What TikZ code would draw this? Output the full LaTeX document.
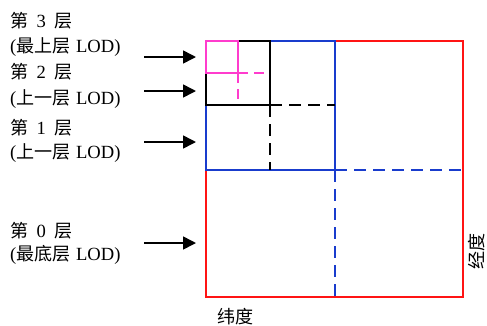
\documentclass[tikz,border=0pt]{standalone}
\usepackage{fontspec}
\setmainfont{Liberation Serif}
\newfontfamily\cjk[Scale=0.97]{Noto Sans CJK SC}
\usetikzlibrary{arrows.meta}
\definecolor{cred}{RGB}{255,20,20}
\definecolor{cblue}{RGB}{25,60,205}
\definecolor{cmag}{RGB}{255,60,205}
\newcommand{\gp}{\hspace{0.45em}}
\newcommand{\gq}{\hspace{0.3em}}
\tikzset{
  lbl/.style={anchor=west, inner sep=0pt, font=\fontsize{18.6}{21}\selectfont},
  arr/.style={line width=1.6pt, -{Triangle[length=13pt,width=13pt]}},
  solidline/.style={line width=1.7pt},
  dashline/.style={line width=1.7pt, dash pattern=on 12pt off 7pt},
}
\begin{document}
\begin{tikzpicture}[x=1pt,y=-1pt]
\useasboundingbox (0,0) rectangle (487,325);
% level 0 (red)
\draw[solidline, cred] (206,41) rectangle (463,297);
\draw[dashline, cblue] (335,170) -- (335,297);
\draw[dashline, cblue] (335,170) -- (463,170);
% level 1 (blue)
\draw[solidline, cblue] (206,41) rectangle (335,170);
\draw[dashline, black] (270,105) -- (270,170);
\draw[dashline, black] (270,105) -- (335,105);
% level 2 (black)
\draw[solidline, black] (206,41) rectangle (270,105);
\draw[dashline, cmag, dash pattern=on 10pt off 6pt] (238,73) -- (238,105);
\draw[dashline, cmag, dash pattern=on 10pt off 6pt] (238,73) -- (270,73);
% level 3 (magenta)
\draw[solidline, cmag] (206,41) rectangle (238,73);

% labels
\node[lbl] (l3a) at (10,21) {{\cjk 第}\gp 3\gp{\cjk 层}};
\node[lbl] (l3b) at (10,47) {({\cjk 最上层}\gq LOD)};
\node[lbl] (l2a) at (10,72) {{\cjk 第}\gp 2\gp{\cjk 层}};
\node[lbl] (l2b) at (10,99) {({\cjk 上一层}\gq LOD)};
\node[lbl] (l1a) at (10,128) {{\cjk 第}\gp 1\gp{\cjk 层}};
\node[lbl] (l1b) at (10,153) {({\cjk 上一层}\gq LOD)};
\node[lbl] (l0a) at (10,231) {{\cjk 第}\gp 0\gp{\cjk 层}};
\node[lbl] (l0b) at (10,255) {({\cjk 最底层}\gq LOD)};

\node[lbl, font=\cjk\fontsize{18.6}{21}\selectfont] (lat) at (217,317) {纬度};
\node[inner sep=0pt, rotate=90, font=\cjk\fontsize{18.6}{21}\selectfont] (lon) at (477,251) {经度};

% arrows
\coordinate (s3) at (144,57); \coordinate (e3) at (196,57);
\coordinate (s2) at (144,91); \coordinate (e2) at (196,91);
\coordinate (s1) at (144,142); \coordinate (e1) at (196,142);
\coordinate (s0) at (144,243); \coordinate (e0) at (196,243);
\draw[arr] (s3) -- (e3);
\draw[arr] (s2) -- (e2);
\draw[arr] (s1) -- (e1);
\draw[arr] (s0) -- (e0);
\end{tikzpicture}
\end{document}
